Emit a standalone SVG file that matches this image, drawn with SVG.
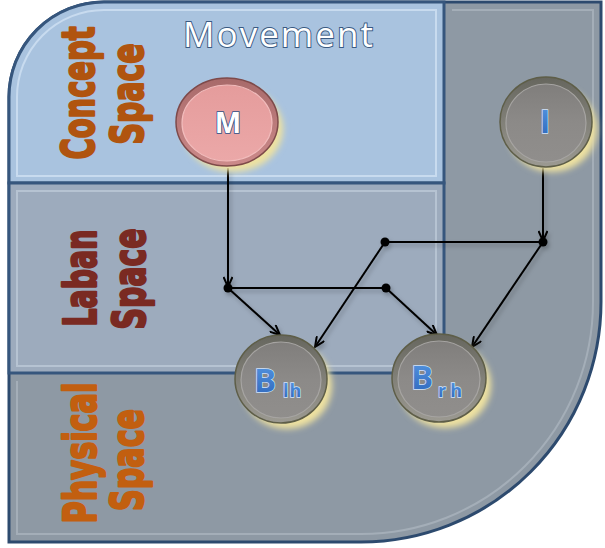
<svg xmlns="http://www.w3.org/2000/svg" width="605" height="548" viewBox="0 0 605 548">
  <defs>
    <style>
      .frame { fill: #8e99a4; stroke: #2d4a6e; stroke-width: 3; }
      .concept { fill: #a9c3df; stroke: #36567d; stroke-width: 3; }
      .laban { fill: #9dabbd; stroke: #36567d; stroke-width: 3; }
      .bevel { fill: none; stroke-width: 2; }
      .side { font-family: "DejaVu Sans", "Liberation Sans", sans-serif; font-weight: bold; font-size: 44px; text-anchor: middle; stroke-width: 2.4; stroke-linejoin: round; }
      .title { font-family: "Open Sans", "Liberation Sans", sans-serif; font-size: 35px; fill: #ffffff; stroke: #3a5a82; stroke-width: 1.9; paint-order: stroke; }
      .wire { fill: none; stroke: #000000; stroke-width: 2; }
      .arrow { fill: none; stroke: #000000; stroke-width: 2; marker-end: url(#vhead); }
      .dot { fill: #000000; }
      .lbl { font-family: "Open Sans", "Liberation Sans", sans-serif; font-weight: bold; fill: url(#labelBlue); stroke: #cfe4ff; stroke-width: 1.4; paint-order: stroke; }
    </style>
    <marker id="vhead" viewBox="0 0 12 10" markerWidth="12" markerHeight="10" refX="11" refY="5" orient="auto" markerUnits="userSpaceOnUse">
      <path d="M1,0.5 L11,5 L1,9.5" fill="none" stroke="#000" stroke-width="2"/>
    </marker>
    <linearGradient id="labelBlue" x1="0" y1="0" x2="0" y2="1">
      <stop offset="0" stop-color="#5a9ce6"/>
      <stop offset="1" stop-color="#2b63b8"/>
    </linearGradient>
    <linearGradient id="ringGray" x1="0" y1="0" x2="0" y2="1">
      <stop offset="0" stop-color="#66665e"/>
      <stop offset="1" stop-color="#9c9a92"/>
    </linearGradient>
    <linearGradient id="faceGray" x1="0" y1="0" x2="0" y2="1">
      <stop offset="0" stop-color="#807e7c"/>
      <stop offset="0.5" stop-color="#8c8a88"/>
      <stop offset="1" stop-color="#908e8c"/>
    </linearGradient>
    <linearGradient id="ringPink" x1="0" y1="0" x2="0" y2="1">
      <stop offset="0" stop-color="#a86a6a"/>
      <stop offset="1" stop-color="#cc8a8a"/>
    </linearGradient>
    <linearGradient id="facePink" x1="0" y1="0" x2="0" y2="1">
      <stop offset="0" stop-color="#e59c9c"/>
      <stop offset="1" stop-color="#eba8a8"/>
    </linearGradient>
    <filter id="glow" x="-30%" y="-30%" width="160%" height="160%">
      <feGaussianBlur stdDeviation="3"/>
    </filter>
    <filter id="soft" x="-10%" y="-10%" width="120%" height="120%">
      <feDropShadow dx="2" dy="3" stdDeviation="2" flood-color="#000" flood-opacity="0.25"/>
    </filter>
  </defs>

  <!-- outer frame (physical space and right column) -->
  <g id="frame">
    <path class="frame" d="M9,97 A95,95 0 0 1 104,2 L601,2 L601,302 A240,240 0 0 1 361,542 L9,542 Z"/>
    <path class="bevel" stroke="#a4aeb8" d="M452,10 L593,10 L593,302 A232,232 0 0 1 361,534 L17,534 L17,381"/>
  </g>

  <!-- concept space panel -->
  <g id="concept-panel">
    <path class="concept" d="M9,97 A95,95 0 0 1 104,2 L444,2 L444,183 L9,183 Z"/>
    <path class="bevel" stroke="#c8dbef" d="M17,97 A87,87 0 0 1 104,10 L436,10 L436,176 L17,176 Z"/>
  </g>

  <!-- laban space panel -->
  <g id="laban-panel">
    <rect class="laban" x="9" y="183" width="435" height="190"/>
    <rect class="bevel" stroke="#b6c3d2" x="17" y="191" width="419" height="175"/>
  </g>

  <!-- row titles -->
  <g id="row-labels">
    <text class="title" x="183" y="47" textLength="190" lengthAdjust="spacing">Movement</text>
    <text class="side" fill="#b0540f" stroke="#b0540f" transform="translate(94,93) rotate(-90)" textLength="133" lengthAdjust="spacingAndGlyphs">Concept</text>
    <text class="side" fill="#b0540f" stroke="#b0540f" transform="translate(143,94) rotate(-90)" textLength="101" lengthAdjust="spacingAndGlyphs">Space</text>
    <text class="side" fill="#7a2a22" stroke="#7a2a22" transform="translate(96,278) rotate(-90)" textLength="97" lengthAdjust="spacingAndGlyphs">Laban</text>
    <text class="side" fill="#7a2a22" stroke="#7a2a22" transform="translate(145,279) rotate(-90)" textLength="101" lengthAdjust="spacingAndGlyphs">Space</text>
    <text class="side" fill="#c25f10" stroke="#c25f10" transform="translate(96,453) rotate(-90)" textLength="141" lengthAdjust="spacingAndGlyphs">Physical</text>
    <text class="side" fill="#c25f10" stroke="#c25f10" transform="translate(143,460) rotate(-90)" textLength="102" lengthAdjust="spacingAndGlyphs">Space</text>
  </g>

  <!-- connectors -->
  <g id="connectors" filter="url(#soft)">
    <path class="arrow" d="M228,168 L228,287"/>
    <path class="wire" d="M228,288 L386,288"/>
    <path class="arrow" d="M228,288 L280,335"/>
    <path class="arrow" d="M386,288 L437,335"/>
    <path class="arrow" d="M543,168 L543,241"/>
    <path class="wire" d="M543,242 L385,242"/>
    <path class="arrow" d="M385,242 L315,347"/>
    <path class="arrow" d="M543,242 L472,347"/>
    <circle class="dot" cx="228" cy="288" r="4.5"/>
    <circle class="dot" cx="386" cy="288" r="4.5"/>
    <circle class="dot" cx="385" cy="242" r="4.5"/>
    <circle class="dot" cx="543" cy="242" r="4.5"/>
  </g>

  <!-- nodes -->
  <g id="node-M">
    <ellipse cx="233" cy="129" rx="50" ry="43" fill="#efe2a0" filter="url(#glow)"/>
    <ellipse cx="227" cy="122" rx="51" ry="44" fill="url(#ringPink)" stroke="#7e4a4a" stroke-width="1.5"/>
    <ellipse cx="227" cy="123" rx="45" ry="38" fill="url(#facePink)" stroke="#f2bcbc" stroke-width="1.2"/>
    <text x="228" y="133" text-anchor="middle" font-family="'Open Sans', 'Liberation Sans', sans-serif" font-weight="bold" font-size="28" fill="#ffffff" stroke="#2f4f86" stroke-width="1.6" paint-order="stroke">M</text>
  </g>

  <g id="node-I">
    <ellipse cx="552" cy="129" rx="45" ry="43" fill="#efe2a0" filter="url(#glow)"/>
    <ellipse cx="546" cy="122" rx="46" ry="45" fill="url(#ringGray)" stroke="#5e5e48" stroke-width="1.5"/>
    <ellipse cx="546" cy="123" rx="40" ry="39" fill="url(#faceGray)" stroke="#a6a4a2" stroke-width="1.2"/>
    <text class="lbl" x="545" y="133" text-anchor="middle" font-size="32">I</text>
  </g>

  <g id="node-Blh">
    <ellipse cx="287" cy="386" rx="45" ry="43" fill="#efe2a0" filter="url(#glow)"/>
    <ellipse cx="281" cy="379" rx="46" ry="44" fill="url(#ringGray)" stroke="#5e5e48" stroke-width="1.5"/>
    <ellipse cx="281" cy="380" rx="40" ry="38" fill="url(#faceGray)" stroke="#a6a4a2" stroke-width="1.2"/>
    <text class="lbl" x="254" y="392" font-size="33">B</text>
    <text class="lbl" x="283" y="397" font-size="18" letter-spacing="1">lh</text>
  </g>

  <g id="node-Brh">
    <ellipse cx="445" cy="385" rx="46" ry="43" fill="#efe2a0" filter="url(#glow)"/>
    <ellipse cx="439" cy="378" rx="47" ry="44" fill="url(#ringGray)" stroke="#5e5e48" stroke-width="1.5"/>
    <ellipse cx="439" cy="379" rx="41" ry="38" fill="url(#faceGray)" stroke="#a6a4a2" stroke-width="1.2"/>
    <text class="lbl" x="411" y="389" font-size="33">B</text>
    <text class="lbl" x="438" y="397" font-size="18" letter-spacing="4">rh</text>
  </g>
</svg>
